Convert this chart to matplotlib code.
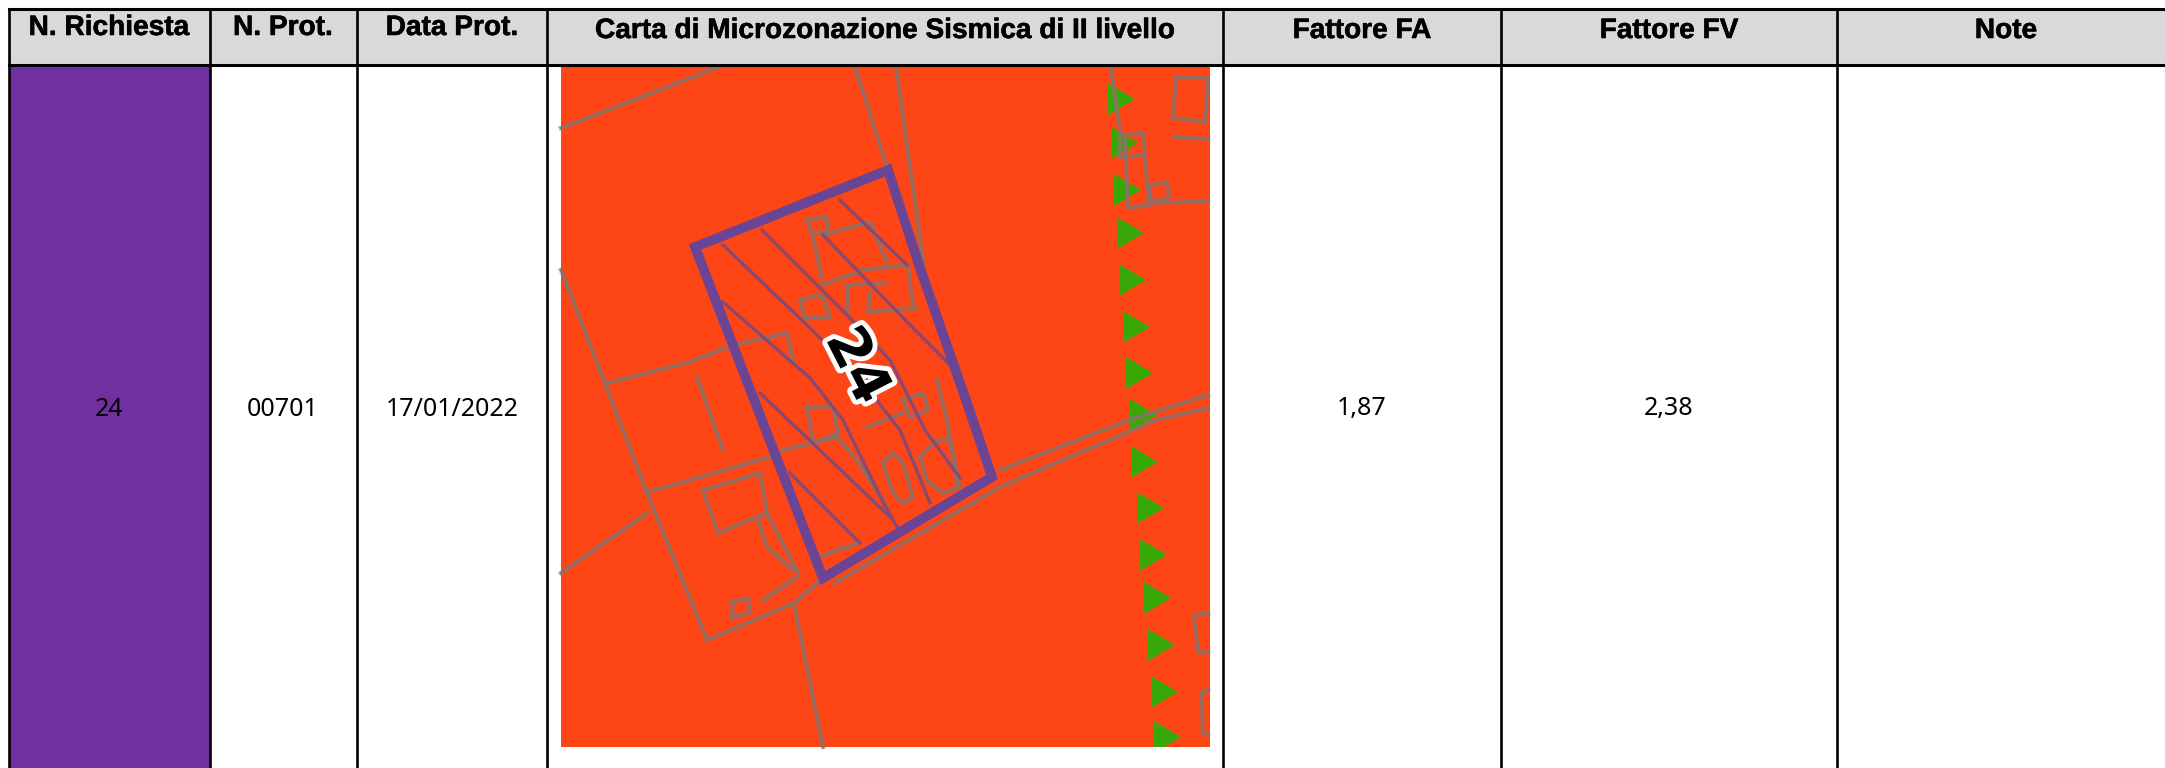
import matplotlib
matplotlib.use("Agg")
import matplotlib.pyplot as plt
import matplotlib.patheffects as pe
from matplotlib.patches import Polygon, Rectangle

plt.rcParams["font.family"] = ["Noto Sans", "DejaVu Sans"]

headers = ["N. Richiesta", "N. Prot.", "Data Prot.", "Carta di Microzonazione Sismica di II livello",
           "Fattore FA", "Fattore FV", "Note"]
row_values = ["24", "00701", "17/01/2022", "", "1,87", "2,38", ""]
map_label = "24"

col_edges = [9, 210, 357, 547, 1223, 1501, 1837, 2165]
header_top, header_bottom, table_bottom = 9, 65, 768
map_box = [561, 65, 1210, 747]

ORANGE = "#fd4516"
GREY = "#8d7168"
VIOLET = "#6a4596"
THIN_VIOLET = "#7f4a78"
GREEN = "#38a808"

# parcel outline
parcel = [(695, 247), (888, 170), (920, 268), (967, 403), (992, 477), (823, 578)]

# cadastral lines around the parcel
grey_lines = [
    [(561, 128), (719, 67)],
    [(855, 67), (888, 170)],
    [(896, 67), (924, 267)],
    [(1111, 67), (1120, 130), (1120, 157)],
    [(1176, 77), (1208, 78), (1205, 122), (1173, 118), (1176, 77)],
    [(1174, 137), (1208, 139)],
    [(1125, 135), (1143, 133), (1149, 205), (1128, 208), (1125, 135)],
    [(1120, 157), (1143, 155)],
    [(1149, 185), (1167, 182), (1169, 197), (1152, 203), (1149, 185)],
    [(1149, 203), (1208, 201)],
    [(561, 270), (605, 383), (647, 493), (707, 640)],
    [(707, 640), (794, 603), (821, 580)],
    [(794, 603), (823, 747)],
    [(561, 573), (647, 513)],
    [(607, 383), (690, 362), (733, 345), (787, 333), (793, 362)],
    [(647, 492), (690, 480), (770, 457), (783, 450), (837, 437)],
    [(697, 377), (723, 450)],
    [(703, 490), (760, 473), (767, 513), (718, 533), (703, 490)],
    [(758, 520), (767, 547), (793, 570)],
    [(767, 513), (798, 573)],
    [(763, 600), (797, 577)],
    [(732, 602), (748, 598), (750, 612), (732, 618), (732, 602)],
    [(1000, 470), (1129, 420), (1208, 395)],
    [(835, 583), (1000, 487), (1156, 420), (1208, 408)],
    [(1208, 613), (1194, 615), (1198, 652), (1208, 652)],
    [(1208, 690), (1201, 693), (1203, 733), (1208, 735)],
    # buildings inside the parcel
    [(807, 220), (827, 217), (828, 232), (812, 233), (807, 220)],
    [(812, 233), (822, 278)],
    [(823, 235), (870, 222), (887, 262)],
    [(822, 285), (863, 270), (908, 265), (913, 305)],
    [(800, 300), (822, 295), (830, 317), (805, 318), (800, 300)],
    [(847, 285), (885, 283)],
    [(847, 285), (847, 312)],
    [(870, 292), (868, 312), (917, 308)],
    [(807, 407), (833, 407), (838, 433), (813, 443), (807, 407)],
    [(867, 427), (903, 413)],
    [(903, 400), (923, 393), (928, 410), (910, 417), (903, 400)],
    [(837, 437), (857, 460), (887, 507)],
    [(883, 463), (893, 453), (903, 463), (913, 497), (903, 503), (893, 493), (883, 463)],
    [(920, 457), (937, 440), (950, 440), (960, 487), (943, 493), (927, 480), (920, 457)],
    [(937, 380), (947, 420), (957, 483)],
    [(818, 557), (857, 543)],
]

# thin diagonal lines across the parcel
violet_lines = [
    [(723, 245), (810, 328), (857, 375), (900, 430), (930, 503)],
    [(762, 230), (847, 315), (890, 360), (925, 430), (960, 478)],
    [(823, 235), (910, 325), (957, 372), (975, 430)],
    [(840, 200), (907, 265)],
    [(723, 302), (810, 378), (843, 420), (882, 500), (897, 527)],
    [(760, 393), (890, 517)],
    [(790, 473), (860, 543)],
]

# fault-line triangles along the right edge
triangle_x = [1108, 1111, 1114, 1117, 1119, 1123, 1126, 1130, 1131, 1137, 1140, 1144, 1148, 1151, 1154]
triangle_y = [99, 143, 190, 233, 280, 327, 373, 415, 462, 508, 555, 598, 645, 692, 737]

fig = plt.figure(figsize=(21.65, 7.68), dpi=100)
ax = fig.add_axes([0, 0, 1, 1])
ax.set_xlim(0, 2165)
ax.set_ylim(768, 0)
ax.axis("off")

# header band and coloured cell
ax.add_patch(Rectangle((col_edges[0], header_top), col_edges[-1] - col_edges[0], header_bottom - header_top,
                       fc="#d9d9d9", ec="none", zorder=1))
ax.add_patch(Rectangle((col_edges[0], header_bottom), col_edges[1] - col_edges[0], table_bottom - header_bottom,
                       fc="#7030a0", ec="none", zorder=1))

# map
x0, y0, x1, y1 = map_box
bg = Rectangle((x0, y0), x1 - x0, y1 - y0, fc=ORANGE, ec="none", zorder=2)
ax.add_patch(bg)
clip = Rectangle((x0, y0), x1 - x0, y1 - y0, transform=ax.transData)

for tx, ty in zip(triangle_x, triangle_y):
    tri = Polygon([(tx, ty - 16), (tx + 27, ty), (tx, ty + 16)], fc=GREEN, ec="none", zorder=3)
    ax.add_patch(tri)
    tri.set_clip_path(clip)

# wide faint stroke under each line, the source map is a blurry raster
for line in grey_lines:
    xs = [p[0] for p in line]
    ys = [p[1] for p in line]
    ax.plot(xs, ys, color=GREY, lw=3.6, alpha=0.35, zorder=4, solid_joinstyle="round")
    ax.plot(xs, ys, color=GREY, lw=2.0, zorder=4, solid_joinstyle="round")

for line in violet_lines:
    xs = [p[0] for p in line]
    ys = [p[1] for p in line]
    ax.plot(xs, ys, color=THIN_VIOLET, lw=3.2, alpha=0.3, zorder=5)
    ax.plot(xs, ys, color=THIN_VIOLET, lw=1.8, zorder=5)

ax.add_patch(Polygon(parcel, closed=True, fc="none", ec=VIOLET, lw=7, joinstyle="miter", zorder=6))

ax.text(856, 366, map_label, rotation=-63, rotation_mode="anchor", ha="center", va="center",
        fontsize=40, fontweight="bold", color="black", family="DejaVu Sans", zorder=7,
        path_effects=[pe.withStroke(linewidth=7, foreground="white")])

# grid lines
for x in col_edges[:-1]:
    ax.plot([x, x], [header_top, table_bottom], color="black", lw=1.9, zorder=8, solid_capstyle="butt")
ax.plot([col_edges[0], col_edges[-1]], [header_top, header_top], color="black", lw=2.2, zorder=8)
ax.plot([col_edges[0], col_edges[-1]], [header_bottom, header_bottom], color="black", lw=2.2, zorder=8)

# texts
header_y = [28, 28, 28, 31, 31, 31, 31]
header_x = [109, 283, 452, 885, 1362, 1669, 2006]
for name, tx, ty in zip(headers, header_x, header_y):
    ax.text(tx, ty, name, ha="center", va="center", fontsize=20.2, fontweight="bold", color="black",
            family="Liberation Sans", zorder=9,
            path_effects=[pe.withStroke(linewidth=0.4, foreground="black")])
for val, tx in zip(row_values, header_x):
    if val:
        ax.text(tx, 409, val, ha="center", va="center", fontsize=18, color="black", zorder=9)

fig.savefig("out.png", dpi=100)
